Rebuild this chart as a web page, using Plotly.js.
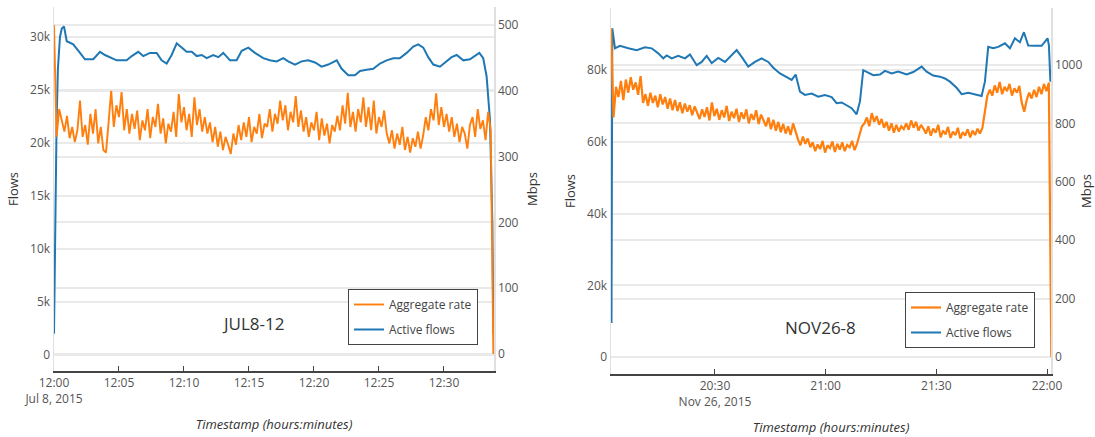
<!DOCTYPE html>
<html>
<head>
<meta charset="utf-8">
<script src="https://cdn.plot.ly/plotly-3.0.1.min.js"></script>
<style>
  html, body { margin: 0; padding: 0; background: #fff; }
  #chart { width: 1095px; height: 437px; }
</style>
</head>
<body>
<div id="chart"></div>
<script>
// ---- JUL8-12 trace: aggregate rate (Mbps), one sample every 12 s from 12:00:00
const julStart = '2015-07-08 12:00:00';
const julRateStepSec = 12;
const julRate = [
  500, 330, 372,
  355, 338, 362, 328, 345, 322,
  340, 385, 330, 348,
  318, 365, 335, 372, 320, 345, 310, 306,
  352, 400, 345, 378, 360, 398, 340, 372,
  335, 365, 342, 370, 325, 355,
  340, 372, 328, 360, 345, 380, 335, 358, 320, 350, 338, 368, 330, 395, 352,
  375, 340, 365, 330, 390, 348, 372, 338, 360,
  335, 352, 322, 345, 315, 338, 310, 330, 318, 304,
  335, 318, 348, 325, 352, 330, 360, 322, 345, 335, 365, 328, 350,
  345, 372, 338, 365, 350, 385, 355, 378, 340, 368, 352, 392, 345,
  370, 338, 360, 330, 352,
  340, 368, 325, 358, 332, 350, 320, 348, 338,
  362, 340, 378, 350, 397, 345, 368, 338, 372, 352, 390, 345, 375, 340, 385, 335, 360,
  345, 370, 335,
  320, 340, 312, 335, 318, 345, 310, 330, 306, 328, 315, 338, 312, 332,
  360, 340, 372, 355, 396, 348, 375, 345, 365,
  338, 360, 330, 350, 322, 345, 335, 312,
  348, 360, 330, 372, 342, 355, 325, 368, 340,
  0
];

// ---- JUL8-12 trace: active flows, minutes after 12:00 and flow counts
const julFlowMinutes = [
  0.0, 0.08, 0.2, 0.3, 0.46, 0.6, 0.77, 0.98, 1.48, 2.0, 2.38, 3.02, 3.54, 3.92,
  4.44, 4.82, 5.59, 5.98, 6.48, 6.87, 7.38, 7.9, 8.28, 8.67, 9.05, 9.44, 9.82,
  10.2, 10.6, 10.98, 11.36, 11.75, 12.25, 12.64, 13.02, 13.54, 14.05, 14.44,
  14.95, 15.46, 16.1, 16.6, 17.13, 17.64, 18.02, 18.54, 19.05, 19.56, 20.08,
  20.59, 21.1, 21.75, 22.13, 22.64, 23.15, 23.54, 24.05, 24.56, 25.08, 25.59,
  26.1, 26.6, 27.13, 27.64, 28.02, 28.41, 28.79, 29.18, 29.69, 30.21, 30.59,
  30.98, 31.49, 32.0, 32.38, 32.72, 33.02, 33.28, 33.54, 33.73, 33.8
];
const julFlows = [
  2000, 12000, 22000, 27000, 30000, 30800, 31000, 29600, 29300, 28500, 27900, 27900, 28600, 28300,
  28000, 27800, 27800, 28200, 28600, 28200, 28500, 28500, 27800, 27500, 28300, 29400, 29000,
  28600, 28600, 28200, 28300, 28000, 28300, 28100, 28500, 27800, 27800, 28700,
  29000, 28500, 28000, 27800, 27700, 28000, 27700, 27400, 27700, 27800, 27600,
  27200, 27400, 27800, 27000, 26400, 26400, 26800, 26900, 27000, 27500, 27800,
  28000, 28000, 28500, 29100, 29300, 29000, 28100, 27400, 27200, 27700, 28100,
  28300, 27800, 27900, 28200, 28500, 28000, 26300, 22200, 12000, 2000
];

// ---- NOV26-8 trace: aggregate rate (Mbps), one sample every 40 s from 20:01:50
const novRateStart = '2015-11-26 20:01:50';
const novRateStepSec = 40;
const novRate = [
  1125, 820,
  925, 890, 945, 880,
  950, 905, 958, 915, 940, 898, 962,
  870, 900,
  860, 905, 870, 895, 855, 900, 865, 890, 850, 885,
  845, 880, 842, 872, 835, 868, 840, 862, 828, 858, 835,
  815, 848, 822, 855, 810, 872, 825, 850, 812, 845, 820, 860, 808, 840, 818, 850,
  805, 838, 815, 848, 800, 832, 812, 845, 798, 830, 808,
  790, 820, 780, 812, 775, 805, 770, 798, 765, 790, 760,
  800, 770,
  745, 725, 755, 730, 748, 718,
  735, 705, 728, 712, 740, 700, 725, 715, 738, 702, 730, 710, 735, 705, 726, 718, 740, 708, 730,
  760, 790,
  800, 820, 790, 835, 805, 825, 795, 815, 785, 805,
  775, 800, 768, 795, 772, 790, 780,
  800, 778, 810, 785, 805, 775, 795, 782,
  765, 790, 758, 782, 768, 795, 752, 775, 762, 788, 750, 772, 760, 785, 748, 770, 758, 780, 752, 775, 760, 782, 765,
  785, 840, 895,
  915, 895, 930, 905, 942, 900, 925, 910, 935, 895, 920, 905, 928,
  870, 840, 880,
  905, 885, 915, 890, 925, 900, 935, 910, 940,
  0
];

// ---- NOV26-8 trace: active flows, minutes after 20:00 and flow counts
const novBase = '2015-11-26 20:00:00';
const novFlowMinutes = [
  1.95, 2.17, 2.9, 4.25, 6.5, 8.78, 11.03, 12.85, 14.63, 15.99, 16.91, 18.27, 20.05,
  21.87, 23.22, 25.04, 26.4, 27.75, 29.11, 30.89, 32.71, 34.07, 35.88, 37.24, 39.02,
  40.84, 42.66, 44.44, 45.8, 47.62, 49.43, 50.79, 51.87, 53.04, 54.39, 56.21, 57.99,
  59.81, 61.63, 62.98, 64.34, 65.69, 67.05, 68.4, 69.3, 70.19, 71.11, 72.9, 74.72,
  76.07, 77.89, 79.67, 81.95, 83.74, 86.02, 87.37, 89.16, 90.98, 92.33, 93.69, 95.5,
  96.86, 98.65, 100.46, 102.28, 103.17, 104.07, 105.42, 106.78, 108.59, 109.95, 111.3,
  112.66, 113.74, 114.91, 116.72, 118.54, 120.16, 120.52, 120.92
];
const novFlows = [
  9500, 91700, 86100, 86800, 86100, 85600, 86400, 86100, 84700, 83300, 84100, 83300, 84000,
  83300, 84400, 81400, 82300, 84000, 82000, 83400, 82300, 83700, 85600, 83700, 81000,
  82300, 83300, 82300, 80700, 79100, 78200, 77300, 78800, 74000, 73100, 73500, 72600,
  73100, 72500, 70800, 71000, 70100, 69400, 67700, 71300, 80000, 79500, 78600, 78800,
  79800, 79100, 79600, 78800, 79500, 81000, 79600, 78500, 78200, 77700, 76800, 75100,
  73300, 73700, 73300, 72800, 76800, 86500, 86100, 86500, 87500, 86100, 88900,
  87800, 90600, 86900, 86800, 86800, 88900, 86900, 76800
];

const seriesNames = ['Aggregate rate', 'Active flows'];
const panelLabels = ['JUL8-12', 'NOV26-8'];

// ---- helpers: timestamps as plain "YYYY-MM-DD HH:MM:SS" strings
function parseStamp(s) {
  const [d, t] = s.split(' ');
  const [Y, M, D] = d.split('-').map(Number);
  const [h, m, sec] = t.split(':').map(Number);
  return Date.UTC(Y, M - 1, D, h, m, sec);
}
function fmtStamp(ms) {
  const d = new Date(ms);
  const p = n => String(n).padStart(2, '0');
  return d.getUTCFullYear() + '-' + p(d.getUTCMonth() + 1) + '-' + p(d.getUTCDate()) + ' ' +
    p(d.getUTCHours()) + ':' + p(d.getUTCMinutes()) + ':' + p(d.getUTCSeconds()) + '.' +
    String(d.getUTCMilliseconds()).padStart(3, '0');
}
function stepTimes(start, stepSec, n) {
  const t0 = parseStamp(start);
  return Array.from({ length: n }, (_, i) => fmtStamp(t0 + i * stepSec * 1000));
}
function minuteTimes(base, minutes) {
  const t0 = parseStamp(base);
  return minutes.map(m => fmtStamp(t0 + Math.round(m * 60000)));
}

const ORANGE = '#ff7f0e';
const BLUE = '#1f77b4';
const FONT = 'Open Sans, Verdana, Arial, sans-serif';
const GRID = '#eaeaea';
const EDGE = '#e0e0e0';
const TICK = '#555';

const traces = [
  { x: stepTimes(julStart, julRateStepSec, julRate.length), y: julRate, name: seriesNames[0],
    type: 'scatter', mode: 'lines', line: { color: ORANGE, width: 1.9 },
    xaxis: 'x', yaxis: 'y2', legend: 'legend', legendgroup: 'rate' },
  { x: minuteTimes(julStart, julFlowMinutes), y: julFlows, name: seriesNames[1],
    type: 'scatter', mode: 'lines', line: { color: BLUE, width: 2 },
    xaxis: 'x', yaxis: 'y', legend: 'legend', legendgroup: 'flows' },
  { x: stepTimes(novRateStart, novRateStepSec, novRate.length), y: novRate, name: seriesNames[0],
    type: 'scatter', mode: 'lines', line: { color: ORANGE, width: 2.2 },
    xaxis: 'x2', yaxis: 'y4', legend: 'legend2', legendgroup: 'rate2' },
  { x: minuteTimes(novBase, novFlowMinutes), y: novFlows, name: seriesNames[1],
    type: 'scatter', mode: 'lines', line: { color: BLUE, width: 2 },
    xaxis: 'x2', yaxis: 'y3', legend: 'legend2', legendgroup: 'flows2' }
];

const W = 1095, H = 437;
const px = v => v / W;
const py = v => 1 - v / H;

function xAxis(domain, range, tick0, dtick) {
  return {
    type: 'date', domain: domain, range: range, tick0: tick0, dtick: dtick,
    ticks: 'inside', ticklen: 5, tickwidth: 1, tickcolor: '#444',
    showline: true, linecolor: '#444', linewidth: 1.5,
    showgrid: false, zeroline: false,
    tickfont: { family: FONT, size: 12, color: TICK },
    title: { text: '<i>Timestamp (hours:minutes)</i>', font: { family: FONT, size: 13, color: '#333' }, standoff: 14 }
  };
}
function yAxis(extra) {
  return Object.assign({
    showgrid: true, gridcolor: GRID, gridwidth: 2, zeroline: false,
    showline: true, linecolor: EDGE, linewidth: 1.5, ticks: '',
    tickfont: { family: FONT, size: 12, color: TICK },
    fixedrange: true
  }, extra);
}

function legendBox(left, top) {
  return {
    x: px(left), y: py(top), xanchor: 'left', yanchor: 'top',
    bgcolor: '#fff', bordercolor: '#444', borderwidth: 1,
    tracegroupgap: 6,
    font: { family: FONT, size: 12, color: '#444' }
  };
}

const layout = {
  width: W, height: H,
  margin: { l: 0, r: 0, t: 0, b: 0 },
  paper_bgcolor: '#fff', plot_bgcolor: '#fff',
  font: { family: FONT, color: '#444' },
  xaxis: xAxis([px(54), px(494)], ['2015-07-08 12:00:00', '2015-07-08 12:33:51'],
               '2015-07-08 12:00:00', 5 * 60 * 1000),
  yaxis: yAxis({ domain: [py(371), py(7)], anchor: 'x', range: [-1510, 32830], dtick: 5000,
                 title: { text: 'Flows', font: { family: FONT, size: 13, color: '#333' } } }),
  yaxis2: yAxis({ overlaying: 'y', side: 'right', anchor: 'x', range: [-25.8, 527.3], dtick: 100,
                  title: { text: 'Mbps', font: { family: FONT, size: 13, color: '#333' } } }),
  xaxis2: Object.assign(xAxis([px(611), px(1051)], ['2015-11-26 20:01:49', '2015-11-26 22:01:05'],
               '2015-11-26 20:00:00', 30 * 60 * 1000), { anchor: 'y3' }),
  yaxis3: yAxis({ domain: [py(374), py(8)], anchor: 'x2', range: [-4740, 97350], dtick: 20000,
                  title: { text: 'Flows', font: { family: FONT, size: 13, color: '#333' } } }),
  yaxis4: yAxis({ overlaying: 'y3', side: 'right', anchor: 'x2', range: [-58.2, 1195], dtick: 200,
                  title: { text: 'Mbps', font: { family: FONT, size: 13, color: '#333' } } }),
  legend: legendBox(348, 289),
  legend2: legendBox(905, 292),
  annotations: [
    { text: panelLabels[0], xref: 'paper', yref: 'paper', x: px(253), y: py(323),
      xanchor: 'center', yanchor: 'middle',
      showarrow: false, font: { family: FONT, size: 17, color: '#333' } },
    { text: panelLabels[1], xref: 'paper', yref: 'paper', x: px(820), y: py(327),
      xanchor: 'center', yanchor: 'middle',
      showarrow: false, font: { family: FONT, size: 17, color: '#333' } }
  ],
  showlegend: true
};

Plotly.newPlot('chart', traces, layout, { staticPlot: true, displayModeBar: false });
</script>
</body>
</html>
